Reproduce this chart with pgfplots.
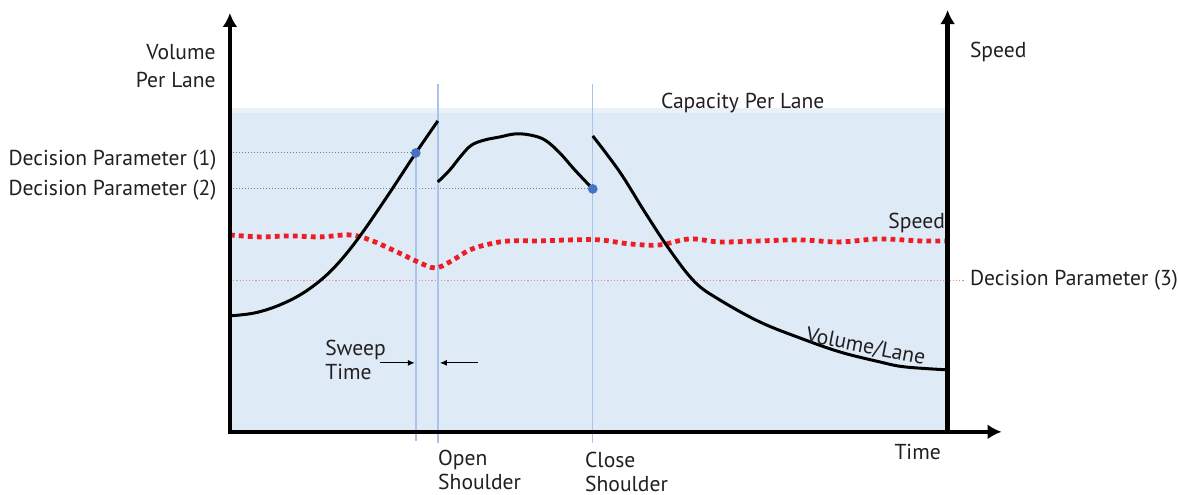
\documentclass[border=0pt]{standalone}
\usepackage{pgfplots}
\pgfplotsset{compat=1.18}
\usepackage{fontspec}
\setmainfont{PT Sans}
\usetikzlibrary{arrows.meta}
\definecolor{shade}{HTML}{DEEBF6}
\definecolor{shadetop}{HTML}{EAF2F8}
\definecolor{vline}{HTML}{A9C4E8}
\definecolor{txt}{HTML}{231F20}
\definecolor{dotblue}{HTML}{4472C4}
\definecolor{spd}{HTML}{EE1C25}
\tikzset{lbl/.style={font=\fontsize{10.8}{12}\selectfont, text=txt, inner sep=0pt}}
\begin{document}
\fontsize{10.8}{13}\selectfont
\begin{tikzpicture}
\begin{axis}[
  scale only axis, width=589pt, height=247.5pt,
  xmin=0, xmax=1178, ymin=0, ymax=495, y dir=reverse,
  hide axis, clip=false,
]
\path (axis cs:0,0) rectangle (axis cs:1178,495);
% shaded area
\addplot[fill=shade, draw=none] coordinates {(230,108) (948,108) (948,432) (230,432)} -- cycle;
\addplot[fill=shadetop, draw=none] coordinates {(230,108) (948,108) (948,113) (230,113)} -- cycle;
% decision parameter lines
\addplot[gray, densely dotted, line width=0.5pt] coordinates {(230,153) (416,153)};
\addplot[gray, densely dotted, line width=0.5pt] coordinates {(230,189) (593,189)};
\addplot[spd!55, densely dotted, line width=0.6pt] coordinates {(230,281) (965,281)};
% vertical lines
\addplot[vline, line width=0.7pt] coordinates {(416,153) (416,441)};
\addplot[vline, line width=0.7pt] coordinates {(438,84) (438,443)};
\addplot[vline, line width=0.7pt] coordinates {(593,84) (593,443)};
% speed curve
\addplot[spd, line width=2.4pt, dash pattern=on 2.4pt off 2.1pt, smooth, tension=0.6] coordinates {
(230,235) (260,237) (290,236) (320,237) (350,235) (370,240) (395,251) (418,262) (435,268) (450,262) (470,250) (490,244) (510,241) (540,241) (570,240) (600,240) (630,244) (660,245) (690,239) (720,242) (760,241) (800,240) (840,242) (880,239) (920,241) (948,241)};
% volume curves
\addplot[black, line width=1.5pt, smooth, tension=0.6] coordinates {
(230,316) (255,313) (280,305) (305,292) (330,272) (355,243) (385,200) (416,153) (438,121)};
\addplot[black, line width=1.5pt, smooth, tension=0.6] coordinates {
(438,182) (450,170) (462,155) (472,145) (485,140) (500,137) (515,134) (530,135) (545,140) (560,153) (575,170) (593,189)};
\addplot[black, line width=1.5pt, smooth, tension=0.6] coordinates {
(593,136) (620,172) (645,212) (670,250) (695,282) (720,300) (760,322) (800,338) (840,352) (880,362) (905,367) (948,370)};
% dots
\addplot[only marks, mark=*, mark size=2.2pt, color=dotblue] coordinates {(416,153) (593,189)};
% axes
\addplot[black, line width=2.3pt, -{Latex[length=7pt,width=7.5pt]}] coordinates {(230,432) (230,13)};
\addplot[black, line width=2.3pt, -{Latex[length=7pt,width=7.5pt]}] coordinates {(948,432) (948,10)};
\addplot[black, line width=2.3pt, -{Latex[length=7pt,width=7.5pt]}] coordinates {(228,432) (1002,432)};
% sweep arrows
\addplot[black, line width=0.6pt, -{Latex[length=3.5pt,width=3pt]}] coordinates {(380,363) (415,363)};
\addplot[black, line width=0.6pt, -{Latex[length=3.5pt,width=3pt]}] coordinates {(478,363) (440,363)};
% labels
\node[lbl, font=\fontsize{10.8}{14}\selectfont, anchor=east, align=right] at (axis cs:216,66) {Volume\\Per Lane};
\node[lbl, anchor=west] at (axis cs:970,52) {Speed};
\node[lbl] at (axis cs:743,103) {Capacity Per Lane};
\node[lbl, anchor=east] at (axis cs:217,160) {Decision Parameter (1)};
\node[lbl, anchor=east] at (axis cs:217,190) {Decision Parameter (2)};
\node[lbl, anchor=west] at (axis cs:970,280) {Decision Parameter (3)};
\node[lbl] at (axis cs:917,223) {Speed};
\node[lbl, rotate=-11] at (axis cs:866,347) {Volume/Lane};
\node[lbl, anchor=west, align=left] at (axis cs:325,360) {Sweep\\Time};
\node[lbl, anchor=west, align=left] at (axis cs:438,470) {Open\\Shoulder};
\node[lbl, anchor=west, align=left] at (axis cs:585,472) {Close\\Shoulder};
\node[lbl] at (axis cs:918,452) {Time};
\end{axis}
\end{tikzpicture}
\end{document}
